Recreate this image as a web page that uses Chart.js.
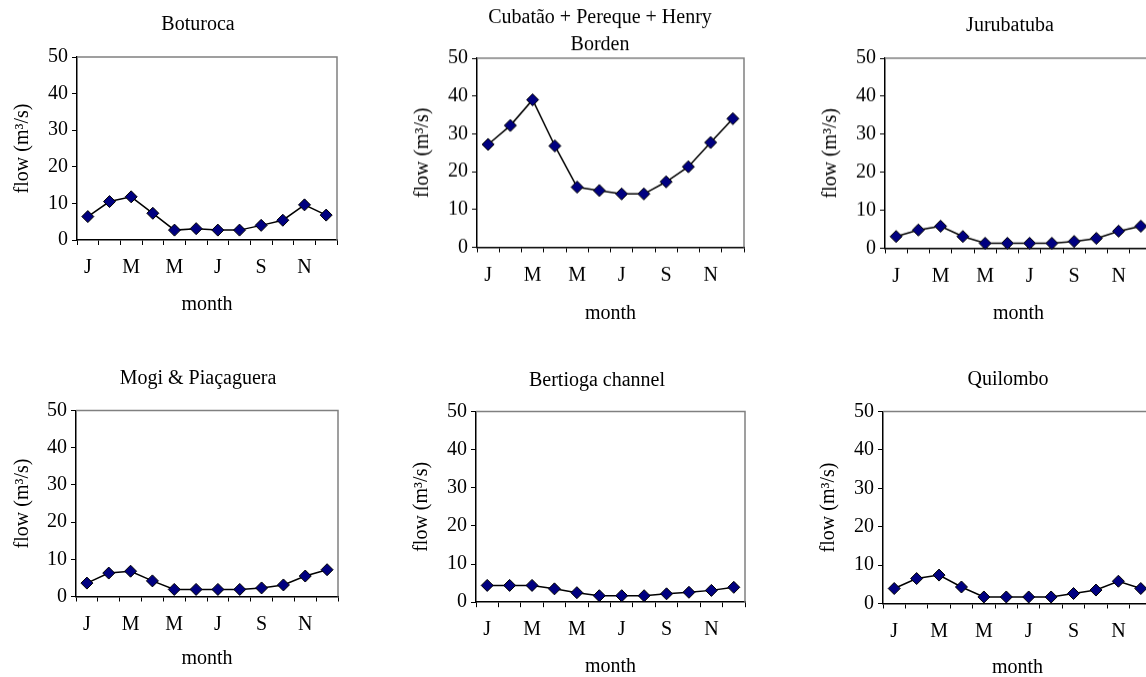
<!DOCTYPE html>
<html>
<head>
<meta charset="utf-8">
<script src="https://cdn.jsdelivr.net/npm/chart.js@4"></script>
<style>
  html, body { margin: 0; padding: 0; background: #fff; overflow: hidden; }
  body { width: 1146px; height: 677px; position: relative; }
  canvas { position: absolute; }
</style>
</head>
<body>
<canvas id="c0"></canvas>
<canvas id="c1"></canvas>
<canvas id="c2"></canvas>
<canvas id="c3"></canvas>
<canvas id="c4"></canvas>
<canvas id="c5"></canvas>
<script>
// months and the labels shown under every other month
var months = ['J', 'F', 'M', 'A', 'M', 'J', 'J', 'A', 'S', 'O', 'N', 'D'];
var yTicks = [0, 10, 20, 30, 40, 50];

var titles = [
  'Boturoca',
  ['Cubatão + Pereque + Henry', 'Borden'],
  'Jurubatuba',
  'Mogi & Piaçaguera',
  'Bertioga channel',
  'Quilombo',
];

// monthly flow (m3/s)
var boturoca = [6.4, 10.5, 11.8, 7.3, 2.7, 3.1, 2.7, 2.7, 4.0, 5.4, 9.6, 6.8];
var cubatao = [27.2, 32.2, 39.0, 26.8, 15.9, 15.0, 14.1, 14.1, 17.3, 21.3, 27.7, 34.0];
var jurubatuba = [3.1, 4.8, 5.8, 3.1, 1.3, 1.3, 1.3, 1.3, 1.8, 2.6, 4.5, 5.8];
var mogi = [3.6, 6.3, 6.8, 4.2, 1.9, 1.9, 1.9, 1.9, 2.3, 3.1, 5.5, 7.2];
var bertioga = [4.4, 4.4, 4.4, 3.5, 2.5, 1.7, 1.7, 1.7, 2.2, 2.6, 3.1, 3.9];
var quilombo = [3.9, 6.5, 7.4, 4.3, 1.7, 1.7, 1.7, 1.7, 2.6, 3.5, 5.8, 3.9];

var seriesList = [boturoca, cubatao, jurubatuba, mogi, bertioga, quilombo];

// panel placement: canvas box + plot area box (page pixels)
var panels = [
  { L: 0, T: 11, W: 396, plotL: 77, plotT: 57, plotR: 337, plotB: 240, xH: 77 },
  { L: 400, T: 4, W: 400, plotL: 477, plotT: 58, plotR: 744, plotB: 247, xH: 78.5 },
  { L: 808, T: 12, W: 404, plotL: 885, plotT: 58, plotR: 1152, plotB: 248, xH: 77.5 },
  { L: 0, T: 364.5, W: 396, plotL: 76, plotT: 410, plotR: 338, plotB: 596, xH: 74.5 },
  { L: 399, T: 366.5, W: 396, plotL: 476, plotT: 411, plotR: 745, plotB: 602, xH: 76.8 },
  { L: 806, T: 365.5, W: 404, plotL: 883, plotT: 411, plotR: 1152, plotB: 603, xH: 76.5 },
];

var FONT = "'Liberation Serif', 'Times New Roman', serif";
var FS = 20;
Chart.defaults.font.family = FONT;
Chart.defaults.color = '#000';

// gray frame on top/right of plot area, like the original
var framePlugin = {
  id: 'frame',
  beforeDatasetsDraw: function (chart) {
    var a = chart.chartArea;
    var ctx = chart.ctx;
    ctx.save();
    ctx.strokeStyle = '#808080';
    ctx.lineWidth = 1.5;
    ctx.beginPath();
    ctx.moveTo(a.left, a.top);
    ctx.lineTo(a.right, a.top);
    ctx.lineTo(a.right, a.bottom);
    ctx.stroke();
    ctx.restore();
  },
};

function makeChart(i) {
  var p = panels[i];
  var canvas = document.getElementById('c' + i);
  var lines = Array.isArray(titles[i]) ? titles[i].length : 1;
  var titleH = 27 * lines;
  var height = p.plotB + p.xH - p.T;
  var rightGap = p.L + p.W - p.plotR;
  canvas.style.left = p.L + 'px';
  canvas.style.top = p.T + 'px';
  canvas.style.width = p.W + 'px';
  canvas.style.height = height + 'px';
  canvas.width = p.W;
  canvas.height = height;

  return new Chart(canvas, {
    type: 'line',
    data: {
      labels: months,
      datasets: [
        {
          data: seriesList[i],
          borderColor: '#000',
          borderWidth: 1.5,
          pointStyle: 'rectRot',
          pointRadius: 6,
          pointBackgroundColor: '#000080',
          pointBorderColor: '#000',
          pointBorderWidth: 1,
          tension: 0,
          clip: false,
        },
      ],
    },
    options: {
      responsive: false,
      animation: false,
      events: [],
      layout: { padding: 0 },
      plugins: {
        legend: { display: false },
        tooltip: { enabled: false },
        title: {
          display: true,
          text: titles[i],
          color: '#000',
          font: { family: FONT, size: FS, weight: 'normal', lineHeight: 27 / FS },
          padding: { top: 0, bottom: p.plotT - p.T - titleH },
        },
      },
      scales: {
        x: {
          offset: true,
          grid: {
            offset: true,
            drawOnChartArea: false,
            tickLength: 5,
            color: '#000',
            tickColor: '#000',
          },
          border: { color: '#000', width: 1.5 },
          ticks: {
            autoSkip: false,
            maxRotation: 0,
            padding: 11,
            font: { size: FS },
            callback: function (v, idx) {
              return idx % 2 === 0 ? months[idx] : '';
            },
          },
          title: {
            display: true,
            text: 'month',
            font: { size: FS },
            padding: 0,
          },
          afterFit: function (s) {
            s.height = p.xH;
          },
        },
        y: {
          min: 0,
          max: 50,
          afterBuildTicks: function (s) {
            s.ticks = yTicks.map(function (v) { return { value: v }; });
          },
          grid: {
            drawOnChartArea: false,
            tickLength: 5,
            tickColor: '#000',
          },
          border: { color: '#000', width: 1.5 },
          ticks: { padding: 4, font: { size: FS } },
          title: {
            display: true,
            text: 'flow (m³/s)',
            font: { size: FS },
            padding: { top: 11, bottom: 0 },
          },
          afterFit: function (s) {
            s.width = p.plotL - p.L;
          },
        },
        // empty right-hand spacer so the title centres on the whole panel
        spacer: {
          type: 'linear',
          position: 'right',
          grid: { display: false },
          border: { display: false },
          ticks: { display: false },
          afterFit: function (s) {
            s.width = rightGap;
          },
        },
      },
    },
    plugins: [framePlugin],
  });
}

for (var i = 0; i < panels.length; i++) {
  makeChart(i);
}
</script>
</body>
</html>
